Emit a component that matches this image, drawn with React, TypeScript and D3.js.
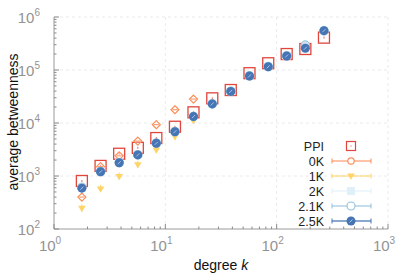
import React from "react";
import * as d3 from "d3";

const degrees = [1.78, 2.62, 3.85, 5.66, 8.3, 12.2, 17.9, 26.4, 38.7, 57, 84, 123, 181, 266];
const ppi = [805, 1550, 2630, 3400, 5200, 8500, 15900, 29200, 41900, 87000, 134000, 200000, 249000, 408000];
const k0 = [400, 1500, 2400, 4560, 9300, 17800, 28300];
const k1 = [245, 570, 980, 1630, 3100, 5500, 11000];
const k2 = [600, 1220, 1800, 2550, 4200, 6900, 13400, 23200, 40000, 78000, 117000, 186000, 280000, 548000];
const k21 = [610, 1210, 1790, 2520, 4180, 6900, 13300, 23000, 39800, 77500, 116000, 185000, 295000, 550000];
const k25 = [590, 1200, 1780, 2500, 4140, 6850, 13200, 22900, 39500, 77000, 115000, 184000, 257000, 552000];
const xTicks = [1, 10, 100, 1000];
const yTicks = [100, 1000, 10000, 100000, 1000000];
const legendLabels = ["PPI", "0K", "1K", "2K", "2.1K", "2.5K"];

const C = {
  ppi: "#e0463c",
  k0: "#fc8d59",
  k1: "#fed468",
  k2: "#e0f0f8",
  k21: "#91bfdb",
  k25: "#4575b4",
};

export default function App() {
  const x = d3.scaleLog().domain([1, 1000]).range([54, 388]);
  const y = d3.scaleLog().domain([100, 1e6]).range([229, 17]);
  const font = "'Liberation Sans', Arial, Helvetica, sans-serif";
  const minorX: number[] = [];
  for (let d = 1; d < 1000; d *= 10) for (let m = 2; m <= 9; m++) minorX.push(d * m);
  const minorY: number[] = [];
  for (let d = 100; d < 1e6; d *= 10) for (let m = 2; m <= 9; m++) minorY.push(d * m);

  const exp = (v: number) => Math.round(Math.log10(v));

  const legendY = (i: number) => 146 + i * 15;

  return (
    <svg width={415} height={277} style={{ position: "absolute", left: 0, top: 0 }} fontFamily={font}>
      <rect width={415} height={277} fill="#fff" />
      {/* grid */}
      {xTicks.slice(1).map((t) => (
        <line key={"gx" + t} x1={x(t)} x2={x(t)} y1={17} y2={229} stroke="#e4e4e4" strokeDasharray="3,3" strokeWidth={0.8} />
      ))}
      {yTicks.slice(1).map((t) => (
        <line key={"gy" + t} x1={54} x2={388} y1={y(t)} y2={y(t)} stroke="#e4e4e4" strokeDasharray="3,3" strokeWidth={0.8} />
      ))}
      {/* axes */}
      <line x1={54} x2={388} y1={229} y2={229} stroke="#9a9a9a" strokeWidth={1} />
      <line x1={54} x2={54} y1={17} y2={229} stroke="#9a9a9a" strokeWidth={1} />
      {xTicks.map((t) => (
        <line key={"tx" + t} x1={x(t)} x2={x(t)} y1={229} y2={224} stroke="#8a8a8a" />
      ))}
      {minorX.map((t) => (
        <line key={"mx" + t} x1={x(t)} x2={x(t)} y1={229} y2={226.5} stroke="#8a8a8a" />
      ))}
      {yTicks.map((t) => (
        <line key={"ty" + t} x1={54} x2={59} y1={y(t)} y2={y(t)} stroke="#8a8a8a" />
      ))}
      {minorY.map((t) => (
        <line key={"my" + t} x1={54} x2={56.5} y1={y(t)} y2={y(t)} stroke="#8a8a8a" />
      ))}
      {xTicks.map((t) => (
        <text key={"lx" + t} x={x(t) - 4} y={251} fontSize={15} fill="#939393" textAnchor="middle">
          10
          <tspan dy={-7} fontSize={10}>{exp(t)}</tspan>
        </text>
      ))}
      {yTicks.map((t) => (
        <text key={"ly" + t} x={40} y={y(t) + 6} fontSize={15} fill="#939393" textAnchor="end">
          10
          <tspan dy={-7} fontSize={10}>{exp(t)}</tspan>
        </text>
      ))}
      <text x={221} y={270} fontSize={14} textAnchor="middle" fill="#111">
        degree <tspan fontStyle="italic">k</tspan>
      </text>
      <text transform="translate(18,122) rotate(-90)" fontSize={14} textAnchor="middle" fill="#111">
        average betweenness
      </text>

      {/* PPI squares */}
      {ppi.map((v, i) => (
        <g key={"p" + i}>
          <rect x={x(degrees[i]) - 5.5} y={y(v) - 5.5} width={11} height={11} fill="none" stroke={C.ppi} strokeWidth={1.3} />
          <line x1={x(degrees[i])} x2={x(degrees[i])} y1={y(v) - 1} y2={y(v) + 1} stroke={C.ppi} strokeWidth={0.8} />
        </g>
      ))}
      {/* 0K */}
      {k0.map((v, i) => {
        const cx = x(degrees[i]);
        const cy = y(v);
        return (
          <g key={"a" + i}>
            <path d={`M${cx},${cy - 4}L${cx + 4},${cy}L${cx},${cy + 4}L${cx - 4},${cy}Z`} fill="#fff" fillOpacity={0.3} stroke={C.k0} strokeWidth={1.2} />
            <line x1={cx - 2.5} x2={cx + 2.5} y1={cy} y2={cy} stroke={C.k0} strokeWidth={1} />
          </g>
        );
      })}
      {/* 1K */}
      {k1.map((v, i) => {
        const cx = x(degrees[i]);
        const cy = y(v);
        return (
          <g key={"b" + i}>
            <path d={`M${cx - 3.8},${cy - 2.5}L${cx + 3.8},${cy - 2.5}L${cx},${cy + 3.8}Z`} fill={C.k1} />
            <line x1={cx} x2={cx} y1={cy - 4} y2={cy + 3} stroke={C.k1} strokeWidth={1} />
          </g>
        );
      })}
      {/* 2K */}
      {k2.map((v, i) => (
        <rect key={"c" + i} x={x(degrees[i]) - 4} y={y(v) - 4} width={8} height={8} fill={C.k2} />
      ))}
      {/* 2.1K */}
      {k21.map((v, i) => (
        <circle key={"d" + i} cx={x(degrees[i])} cy={y(v)} r={4.3} fill="#cfe3f0" stroke={C.k21} strokeWidth={1} />
      ))}
      {/* 2.5K */}
      {k25.map((v, i) => {
        const cx = x(degrees[i]);
        const cy = y(v);
        return (
          <g key={"e" + i}>
            <circle cx={cx} cy={cy} r={4.5} fill={C.k25} />
            <line x1={cx - 1.5} x2={cx + 1.5} y1={cy + 1.5} y2={cy - 1.5} stroke="#a9c4e4" strokeWidth={1} />
          </g>
        );
      })}

      {/* legend */}
      {legendLabels.map((lab, i) => {
        const ly = legendY(i);
        const mx = 351;
        const colors = [C.ppi, C.k0, C.k1, C.k2, C.k21, C.k25];
        const col = colors[i];
        return (
          <g key={"lg" + i}>
            <text x={324} y={ly + 4.5} fontSize={12.5} textAnchor="end" fill="#222">
              {lab}
            </text>
            {i === 0 ? (
              <g>
                <rect x={mx - 4.5} y={ly - 4.5} width={9} height={9} fill="none" stroke={col} strokeWidth={1.2} />
                <line x1={mx} x2={mx} y1={ly - 0.6} y2={ly + 0.6} stroke={col} strokeWidth={0.8} />
              </g>
            ) : (
              <g>
                <line x1={332} x2={371} y1={ly} y2={ly} stroke={col} strokeWidth={1.5} strokeOpacity={i === 5 ? 0.85 : 0.7} />
                <line x1={332} x2={332} y1={ly - 2.5} y2={ly + 2.5} stroke={col} strokeWidth={1} />
                <line x1={371} x2={371} y1={ly - 2.5} y2={ly + 2.5} stroke={col} strokeWidth={1} />
                {i === 1 && <circle cx={mx} cy={ly} r={3.2} fill="#fff" stroke={col} strokeWidth={1.2} />}
                {i === 2 && <path d={`M${mx - 3.8},${ly - 2.5}L${mx + 3.8},${ly - 2.5}L${mx},${ly + 3.8}Z`} fill={col} />}
                {i === 3 && <rect x={mx - 4} y={ly - 4} width={8} height={8} fill={col} />}
                {i === 4 && <circle cx={mx} cy={ly} r={4} fill="#fff" stroke={col} strokeWidth={1.1} />}
                {i === 5 && (
                  <g>
                    <circle cx={mx} cy={ly} r={4.5} fill={col} />
                    <line x1={mx - 1.5} x2={mx + 1.5} y1={ly + 1.5} y2={ly - 1.5} stroke="#a9c4e4" strokeWidth={1} />
                  </g>
                )}
              </g>
            )}
          </g>
        );
      })}
    </svg>
  );
}
